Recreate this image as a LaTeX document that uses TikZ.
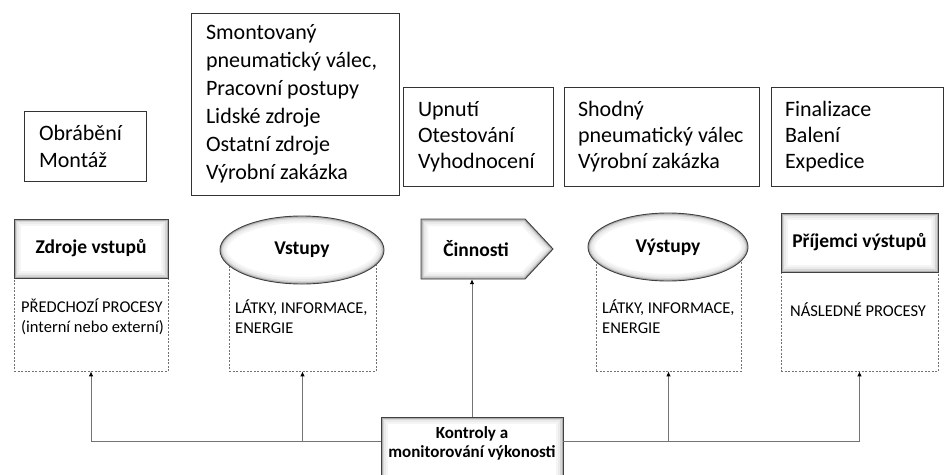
\documentclass[tikz,border=0pt]{standalone}
\usepackage{fontspec}
\setmainfont{Carlito}
\usetikzlibrary{shapes.geometric,arrows.meta,calc}
\newcommand{\cinpoly}{(421,219) -- (525,219) -- (553,249) -- (525,279) -- (421,279) -- cycle}
\newcommand{\nsp}{\spaceskip=0pt\xspaceskip=0pt\relax}
\begin{document}
\begin{tikzpicture}[x=1pt,y=-1pt,
  topbox/.style={draw=black!80, line width=0.8pt, fill=white, align=left, inner xsep=15pt, font=\fontsize{22}{26}\selectfont},
  glowrect/.style={fill=white, draw=black!75, line width=0.9pt, font=\bfseries\fontsize{19.5}{22}\selectfont,
    path picture={\foreach \w/\cc in {14/black!4,10/black!8,6/black!16,3/black!32}{\draw[line width=\w pt,\cc] (path picture bounding box.south west) rectangle (path picture bounding box.north east);}}},
  glowell/.style={ellipse, fill=white, draw=black!75, line width=0.9pt, inner sep=0pt, font=\bfseries\fontsize{19.5}{22}\selectfont,
    path picture={\foreach \w/\cc in {14/black!4,10/black!8,6/black!16,3/black!32}{\draw[line width=\w pt,\cc] let \p1=($(path picture bounding box.north east)-(path picture bounding box.center)$) in (path picture bounding box.center) ellipse [x radius=\x1, y radius=\y1];}}},
  glowpoly/.style={fill=white, draw=black!75, line width=0.9pt,
    path picture={\foreach \w/\cc in {14/black!4,10/black!8,6/black!16,3/black!32}{\draw[line width=\w pt,\cc] \cinpoly;}}},
  dashbox/.style={draw=black!55, line width=0.7pt, dash pattern=on 2pt off 1.5pt, inner sep=0pt},
  lowtext/.style={align=left, inner sep=0pt, font=\fontsize{16.5}{20}\selectfont},
  conn/.style={draw=black!55, line width=0.9pt, -{Latex[length=5pt,width=4.5pt,color=black]}}
]
\useasboundingbox (0,0) rectangle (944,474);

% top text boxes
\node[topbox, minimum width=122, minimum height=70, font=\fontsize{22}{27}\selectfont, text width=92] (b1) at (85,146) {\nsp Obrábění\\Montáž};
\node[topbox, minimum width=208, minimum height=182, font=\fontsize{22}{28}\selectfont, text width=178] (b2) at (295,104) {\nsp Smontovaný\\pneumatický~válec,\\Pracovní~postupy\\Lidské~zdroje\\Ostatní~zdroje\\Výrobní~zakázka};
\node[topbox, minimum width=150, minimum height=99, text width=120] (b3) at (478,136.5) {\nsp Upnutí\\Otestování\\Vyhodnocení};
\node[topbox, minimum width=195, minimum height=99, text width=167, inner xsep=14pt] (b4) at (661.5,136.5) {\nsp Shodný\\pneumatický~válec\\Výrobní~zakázka};
\node[topbox, minimum width=172, minimum height=99, text width=144, inner xsep=14pt] (b5) at (857,136.5) {\nsp Finalizace\\Balení\\Expedice};

% dashed boxes
\node[dashbox, minimum width=154, minimum height=93] (d1) at (91,324.5) {};
\node[dashbox, minimum width=147, minimum height=121] (d2) at (302.5,310.5) {};
\node[dashbox, minimum width=145, minimum height=124] (d3) at (668.5,309) {};
\node[dashbox, minimum width=157, minimum height=99] (d4) at (859.5,321.5) {};

% main shapes
\node[glowrect, minimum width=154, minimum height=59, inner sep=0pt] (zdroje) at (91,248.5) {Zdroje vstupů};
\node[glowell, minimum width=164, minimum height=68] (vstupy) at (302,250) {Vstupy};
\path[glowpoly] \cinpoly;
\node[minimum width=104, minimum height=60, inner sep=0pt, font=\bfseries\fontsize{19.5}{22}\selectfont] (cin) at (473,249) {\hspace*{6pt}Činnosti};
\node[glowell, minimum width=160, minimum height=68] (vystupy) at (668,247) {Výstupy};
\node[glowrect, minimum width=157, minimum height=59, inner sep=0pt] (prij) at (859.5,242.5) {Příjemci výstupů};

% texts in dashed boxes
\node[lowtext, anchor=west] (t1) at (21,317) {PŘEDCHOZÍ~PROCESY\\(interní~nebo~externí)};
\node[lowtext, anchor=west] (t2) at (235,317) {LÁTKY,~INFORMACE,\\ENERGIE};
\node[lowtext, anchor=west] (t3) at (602,317) {LÁTKY,~INFORMACE,\\ENERGIE};
\node[lowtext, anchor=west] (t4) at (790,310) {NÁSLEDNÉ~PROCESY};

% control box
\node[glowrect, minimum width=182, minimum height=65, inner sep=0pt] (kbox) at (472,449.5) {};
\node[align=center, inner sep=0pt, font=\bfseries\fontsize{17}{19}\selectfont] (kon) at (472,443) {Kontroly a\\monitorování výkonosti};

% connectors
\draw[conn] ($(kbox.north west)+(0,25)$) -| (d1.south);
\draw[conn] ($(kbox.north west)+(0,25)$) -| (d2.south);
\draw[conn] ($(kbox.north east)+(0,25)$) -| (d3.south);
\draw[conn] ($(kbox.north east)+(0,25)$) -| (d4.south);
\draw[conn] (kbox.north) -- (kbox.north |- cin.south);
\end{tikzpicture}
\end{document}
